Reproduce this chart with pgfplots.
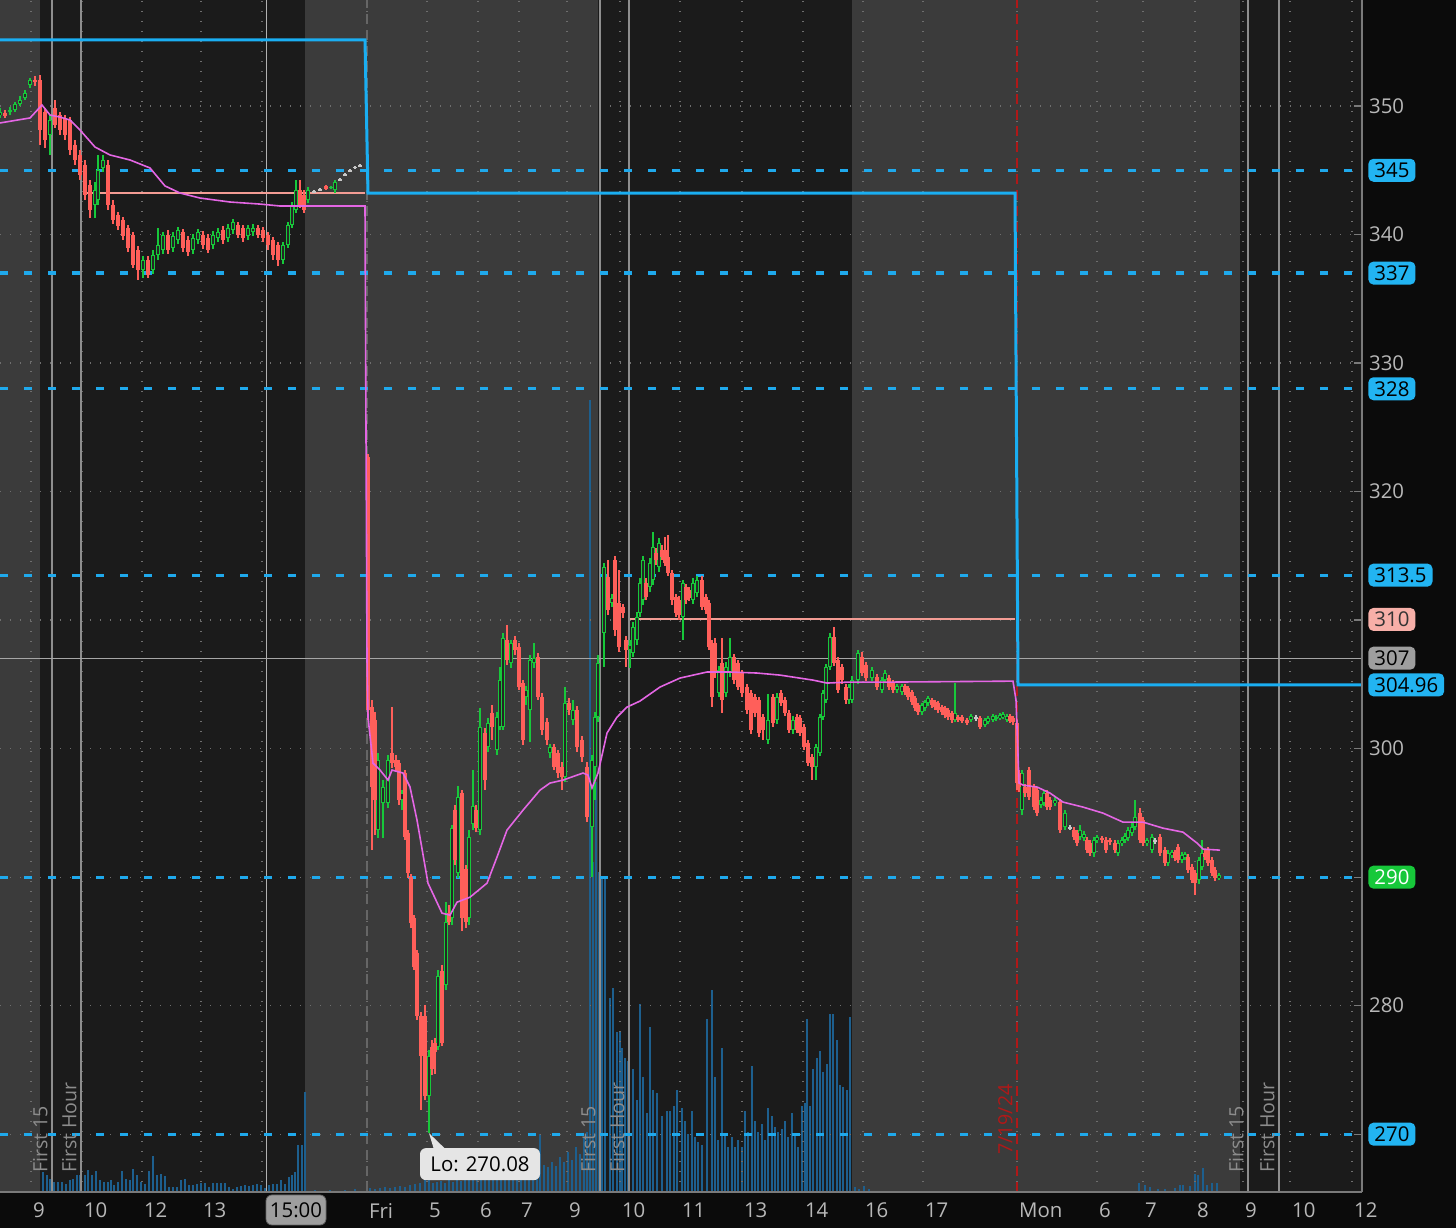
\documentclass[border=0pt]{standalone}
\usepackage{pgfplots}
\pgfplotsset{compat=1.18}
\usepackage{pgfplotstable}
\usepackage{fontspec}
\setmainfont{Open Sans}

\definecolor{bgout}{HTML}{0B0B0B}
\definecolor{bggray}{HTML}{3B3B3B}
\definecolor{bgdark}{HTML}{1B1B1B}
\definecolor{lvlcyan}{HTML}{1FA9EC}
\definecolor{boxcyan}{HTML}{22B4F2}
\definecolor{stepblue}{HTML}{1AAEF2}
\definecolor{vwap}{HTML}{E466E4}
\definecolor{cred}{HTML}{FF5F5A}
\definecolor{cgreen}{HTML}{17C83A}
\definecolor{cgray}{HTML}{C8C8C8}
\definecolor{hollow}{HTML}{262626}
\definecolor{pinklvl}{HTML}{F39C94}
\definecolor{pinkbox}{HTML}{F7AFA8}
\definecolor{volblue}{HTML}{1D5F8E}
\definecolor{sessline}{HTML}{8E8E8E}
\definecolor{gridc}{HTML}{6E6E6E}
\definecolor{ticktext}{HTML}{B8B8B8}
\definecolor{datered}{HTML}{B01818}
\definecolor{axisc}{HTML}{7A7A7A}

\pgfplotsset{
  cbase/.style={forget plot, only marks, mark=*, mark size=0.2pt,
    mark options={draw opacity=0, fill opacity=0}},
  dup/.style={cbase, restrict expr to domain={\thisrow{d}}{0.5:1.5}},
  ddown/.style={cbase, restrict expr to domain={\thisrow{d}}{-0.5:0.5}},
  dgray/.style={cbase, restrict expr to domain={\thisrow{d}}{1.5:2.5}},
}

\pgfplotstableread{
x o c h l d
0 349.30 349.53 349.84 349.07 1
5 349.46 349.22 349.69 349.07 0
10 349.53 349.69 349.92 349.30 1
15 349.69 350.16 350.31 349.53 1
20 350.16 350.47 350.78 350.00 1
25 350.62 351.01 351.25 350.47 1
30 351.63 352.02 352.18 351.40 1
35 352.02 351.87 352.33 351.56 0
40 352.02 348.13 352.41 346.97 0
45 349.53 347.36 349.84 346.73 0
50 347.74 348.91 349.30 346.19 1
55 349.84 348.52 350.47 348.29 0
60 349.30 348.13 349.53 347.74 0
65 349.07 347.74 349.30 347.36 0
70 348.91 346.58 349.14 346.19 0
75 346.97 345.80 347.36 345.41 0
80 346.19 344.63 346.58 344.24 0
85 345.41 343.07 345.80 342.69 0
90 343.85 341.91 344.24 341.29 0
95 342.30 343.46 344.09 341.29 1
98 342.69 345.02 346.19 342.30 1
103 345.18 345.80 346.19 344.86 1
108 345.41 342.30 345.80 341.91 0
113 342.30 341.13 342.69 340.82 0
118 341.52 340.66 341.75 340.35 0
123 341.13 339.89 341.37 339.57 0
128 340.51 338.95 340.74 338.64 0
133 339.96 337.63 340.20 337.40 0
138 338.79 337.24 339.11 336.46 0
143 337.24 338.02 338.33 336.62 1
148 338.02 336.85 338.33 336.62 0
153 337.24 338.41 338.79 336.93 1
158 338.41 339.18 340.51 338.02 1
163 338.79 339.96 340.20 338.48 1
168 339.96 338.79 340.35 338.48 0
173 338.95 339.88 340.20 338.64 1
178 339.57 340.35 340.58 339.26 1
183 340.20 338.95 340.43 338.64 0
188 339.57 338.64 339.88 338.33 0
193 338.79 339.73 340.04 338.48 1
198 339.57 340.20 340.43 339.26 1
203 339.96 339.18 340.27 338.87 0
208 339.73 338.79 340.04 338.56 0
213 339.18 339.96 340.27 338.87 1
218 339.73 340.20 340.51 339.42 1
223 340.35 339.57 340.66 339.26 0
228 339.73 340.51 340.82 339.42 1
233 340.35 340.97 341.21 340.04 1
238 340.74 339.96 340.97 339.73 0
243 340.51 339.73 340.74 339.42 0
248 339.88 340.51 340.74 339.57 1
253 340.20 340.51 340.82 339.88 1
258 340.51 339.96 340.74 339.73 0
263 340.35 339.73 340.58 339.42 0
268 339.96 339.18 340.20 338.79 0
273 339.57 338.41 339.81 338.02 0
278 339.18 338.02 339.42 337.55 0
283 338.02 339.18 339.42 337.71 1
288 339.18 340.74 340.97 338.95 1
292 340.74 342.30 342.53 340.51 1
296 341.91 343.46 344.24 341.67 1
300 343.46 342.30 344.24 342.06 0
304 343.07 341.91 343.46 341.67 0
308 342.69 343.46 343.70 342.45 1
314 343.30 343.38 343.46 343.23 2
320 343.46 343.54 343.62 343.38 2
326 343.77 343.54 343.85 343.46 0
331 343.62 343.70 343.77 343.54 1
335 343.46 344.09 344.24 343.23 1
340 344.24 344.32 344.40 344.17 2
345 344.63 344.71 344.79 344.55 2
350 344.94 345.02 345.10 344.86 2
355 345.18 345.26 345.33 345.10 2
360 345.33 345.41 345.49 345.26 2
368 322.69 302.99 322.90 302.22 0
372 303.23 297.01 303.78 292.10 0
375 302.22 295.99 302.84 293.27 0
378 293.66 299.11 299.65 293.03 1
383 295.76 297.01 297.55 293.03 1
388 295.76 299.11 299.50 295.37 1
392 299.65 298.87 303.23 298.48 0
396 299.11 298.56 299.50 298.17 0
399 298.87 295.99 299.11 295.60 0
402 295.99 296.54 296.77 295.22 1
405 298.09 293.11 298.33 292.88 0
408 293.42 290.31 293.66 289.92 0
411 289.99 286.42 290.23 286.03 0
414 286.81 283.00 287.04 282.77 0
417 284.09 279.18 284.32 278.88 0
421 279.18 276.07 279.50 271.87 0
425 279.18 272.96 280.04 272.65 0
429 272.96 276.07 276.54 270.08 1
432 276.77 275.06 277.32 274.60 0
435 277.08 276.38 277.47 274.67 0
438 276.77 282.30 282.77 276.54 1
442 282.69 277.08 283.15 276.85 0
446 281.60 286.50 288.05 281.21 1
449 287.20 286.50 287.82 286.27 0
452 286.81 293.82 294.05 286.27 1
455 295.22 291.33 295.60 290.94 0
458 290.31 296.23 297.08 289.92 1
462 296.54 286.81 296.77 285.80 0
466 290.63 286.50 290.94 286.03 0
469 286.81 293.11 293.66 286.27 1
473 294.13 295.53 298.33 293.66 1
476 295.22 293.82 295.60 293.50 0
480 293.66 301.68 303.16 293.27 1
485 301.21 297.55 301.60 296.77 0
488 300.12 301.99 302.37 299.73 1
492 302.77 301.68 303.39 300.66 0
497 299.88 302.45 302.84 299.50 1
500 301.68 305.33 306.34 301.44 1
503 301.68 308.60 308.99 301.44 1
507 308.44 306.89 309.61 306.50 0
511 306.66 308.21 308.44 306.27 1
515 308.44 307.67 308.76 307.28 0
519 307.90 304.79 308.21 304.55 0
523 305.10 300.66 305.33 300.27 0
526 304.01 304.55 304.86 303.39 1
530 303.00 306.89 307.28 300.51 1
534 306.66 307.05 308.21 306.27 1
538 307.12 304.01 307.43 303.78 0
542 304.01 301.44 304.32 301.05 0
547 302.06 300.66 302.37 300.27 0
550 299.65 300.12 300.35 299.26 1
554 300.12 298.56 300.35 298.33 0
558 299.65 298.09 299.88 297.71 0
562 298.56 297.79 298.95 296.77 0
565 297.79 303.54 304.79 297.40 1
569 303.54 303.00 303.93 302.61 0
573 302.22 303.00 303.78 301.83 1
577 303.00 300.12 303.31 299.73 0
582 300.66 299.34 300.97 298.95 0
587 298.56 294.67 298.95 294.28 0
592 293.89 299.11 299.50 290.00 1
595 298.56 302.45 302.84 295.99 1
598 302.45 306.66 307.28 302.06 1
604 308.99 314.13 314.44 306.34 1
608 313.35 310.78 314.67 310.39 0
612 311.33 311.72 312.02 311.01 1
615 314.67 309.22 314.98 308.76 0
619 311.33 307.90 313.89 307.51 0
623 311.01 310.55 311.25 310.16 0
626 308.44 307.67 308.76 306.34 0
630 307.67 308.06 308.44 306.27 1
633 307.43 309.45 309.84 307.12 1
637 308.44 310.23 310.62 308.06 1
640 310.55 312.88 313.27 310.23 1
643 311.56 314.67 314.98 311.17 1
646 312.88 311.79 313.27 311.56 0
650 312.57 314.44 314.83 312.18 1
653 313.11 315.68 316.85 312.73 1
656 315.22 314.67 315.60 314.28 0
659 314.13 316.00 316.39 313.74 1
662 315.45 314.90 315.84 314.67 0
665 315.45 314.44 316.46 314.21 0
668 314.90 313.66 316.62 313.43 0
672 313.66 311.56 313.89 311.17 0
676 311.79 310.55 312.02 310.23 0
679 311.56 310.39 311.87 310.00 0
683 310.23 312.88 313.11 308.44 1
686 312.57 311.56 312.80 311.25 0
689 312.34 311.71 312.57 311.48 0
693 311.56 312.88 313.27 311.25 1
697 312.10 313.11 313.43 311.79 1
702 313.11 311.01 313.43 310.78 0
706 311.79 310.78 312.02 310.47 0
709 311.33 307.90 311.56 307.67 0
712 308.21 304.01 308.44 303.23 0
715 308.21 305.88 308.60 305.49 0
719 304.32 306.11 306.42 304.01 1
722 306.66 303.78 308.60 302.77 0
726 304.32 306.34 306.73 304.01 1
730 305.88 307.12 308.60 305.57 1
734 307.12 305.33 307.36 305.02 0
738 306.66 304.79 306.89 304.55 0
742 305.88 304.32 306.11 304.01 0
747 304.79 303.00 305.02 302.69 0
751 304.32 301.44 304.55 301.13 0
755 304.01 302.77 304.24 302.45 0
759 303.78 301.21 304.01 300.90 0
763 302.45 301.44 302.69 300.66 0
768 300.66 302.22 304.24 300.35 1
773 304.01 301.99 304.24 301.68 0
777 302.22 304.01 304.32 301.91 1
781 304.32 303.54 304.55 303.31 0
785 303.78 302.77 304.01 302.53 0
789 302.77 301.44 303.00 301.21 0
793 301.44 302.22 302.53 301.13 1
797 302.45 301.44 302.69 301.21 0
800 302.37 301.21 302.61 300.97 0
804 301.68 300.12 301.91 299.88 0
808 300.43 298.87 300.66 298.64 0
812 299.34 298.56 299.57 297.55 0
816 298.56 300.12 300.35 297.55 1
820 299.65 302.45 302.69 299.42 1
823 302.45 304.32 304.55 302.22 1
826 303.78 306.34 306.58 303.54 1
830 306.34 308.68 308.99 306.11 1
834 308.68 306.66 309.45 306.42 0
838 306.89 304.55 307.12 304.32 0
842 306.34 305.33 306.58 305.02 0
846 304.79 303.78 305.02 303.47 0
849 303.78 304.79 305.02 303.47 1
852 303.78 305.33 305.65 303.54 1
858 305.33 307.43 307.67 305.02 1
862 307.12 305.88 307.51 305.65 0
866 306.50 305.49 306.73 305.26 0
872 305.49 306.11 306.34 305.26 1
877 305.57 304.79 305.80 304.55 0
882 304.55 305.33 305.57 304.32 1
885 305.33 305.88 306.11 305.10 1
889 305.49 304.79 305.72 304.55 0
893 305.10 304.55 305.33 304.32 0
897 304.55 304.86 305.02 304.32 1
902 304.40 304.86 305.02 304.16 1
905 304.86 304.40 305.02 304.16 0
908 304.71 304.01 304.86 303.78 0
912 304.40 303.62 304.55 303.39 0
915 303.93 303.16 304.09 302.92 0
918 303.39 302.84 303.54 302.61 0
922 302.84 303.39 303.54 302.61 1
925 303.16 303.62 303.78 302.92 1
928 303.54 303.93 304.09 303.31 1
932 303.78 303.39 303.93 303.16 0
935 303.62 303.23 303.78 303.00 0
938 303.54 303.00 303.70 302.77 0
942 303.23 302.84 303.39 302.61 0
945 303.16 302.61 303.31 302.37 0
948 303.00 302.45 303.16 302.22 0
952 302.77 302.22 302.92 301.99 0
955 302.22 302.77 305.10 302.06 1
958 302.45 302.22 302.61 302.06 0
962 302.45 302.14 302.61 301.99 0
967 302.22 301.99 302.37 301.83 0
971 302.22 302.53 302.69 302.06 1
976 302.45 302.30 302.61 302.14 2
980 302.37 301.68 302.53 301.52 0
985 301.83 302.22 302.37 301.68 1
988 302.06 302.37 302.53 301.91 1
993 302.22 302.53 302.69 302.06 1
996 302.30 302.45 302.61 302.14 1
1000 302.37 302.61 302.77 302.22 1
1003 302.45 302.69 302.84 302.30 1
1007 302.22 302.53 302.69 302.06 1
1010 302.53 302.14 302.69 301.99 0
1013 302.37 302.06 302.53 301.83 0
1017 301.99 297.32 302.22 296.77 0
1019 298.09 297.01 298.33 296.62 0
1022 295.22 298.09 298.33 294.83 1
1025 297.01 296.54 297.24 296.23 0
1029 298.33 296.23 298.56 295.99 0
1034 297.01 295.45 297.24 295.22 0
1037 296.77 294.98 297.01 294.75 0
1041 295.60 295.99 296.23 295.37 1
1044 295.76 296.54 296.77 295.53 1
1047 296.54 295.45 296.77 295.22 0
1050 295.99 295.45 296.23 295.22 0
1055 295.76 295.99 296.23 295.53 1
1060 295.84 293.66 296.07 293.42 0
1065 293.89 294.98 295.22 293.66 1
1070 293.89 293.82 294.05 293.66 2
1074 293.66 293.11 293.89 292.88 0
1077 293.42 292.65 293.66 292.41 0
1080 293.11 293.66 294.05 292.88 1
1084 293.03 293.35 293.58 292.80 1
1087 292.88 292.10 293.11 291.87 0
1090 292.65 291.87 292.88 291.63 0
1094 291.87 292.88 293.11 291.56 1
1097 292.88 293.11 293.27 292.65 1
1102 293.03 292.88 293.19 292.65 0
1106 292.88 292.10 293.11 291.87 0
1110 292.88 292.72 293.03 292.49 0
1115 292.65 292.10 292.88 291.87 0
1118 291.87 292.65 292.88 291.63 1
1122 292.65 292.88 293.11 292.41 1
1125 292.88 293.19 293.42 292.65 1
1128 293.03 293.66 293.89 292.80 1
1132 293.42 293.89 294.20 293.19 1
1135 293.89 294.67 295.99 293.66 1
1140 294.98 292.88 295.37 292.65 0
1143 294.44 292.65 294.67 292.41 0
1147 292.65 292.88 293.03 292.41 1
1152 292.10 293.11 293.35 291.87 1
1155 292.88 292.72 293.03 292.57 2
1160 293.11 291.87 293.35 291.63 0
1165 292.10 291.09 292.33 290.86 0
1168 291.09 291.87 292.10 290.86 1
1172 291.71 291.95 292.10 291.48 1
1175 291.95 291.48 292.10 291.25 0
1178 292.33 291.33 292.57 291.09 0
1182 291.33 291.71 291.95 291.09 1
1185 291.56 291.79 291.95 291.33 1
1188 291.56 290.55 291.79 290.31 0
1192 290.78 289.77 291.02 289.53 0
1195 290.31 289.53 290.55 288.60 0
1199 289.77 291.33 291.56 289.46 1
1202 290.78 291.87 292.88 290.55 1
1205 291.87 291.56 292.10 291.33 0
1208 292.10 291.09 292.33 290.86 0
1212 291.33 290.31 291.56 290.08 0
1215 290.55 289.92 290.78 289.69 0
1219 289.92 290.16 290.31 289.77 1
}\candles

\pgfplotstableread{
x v
0 348.68
30 349.07
42 350.08
50 349.30
60 349.14
70 348.91
80 348.13
95 346.81
110 346.19
130 345.80
150 345.18
165 343.78
180 343.23
200 342.84
230 342.53
260 342.37
280 342.22
365 342.22
367 306.89
368 302.45
373 298.87
380 298.33
388 297.55
392 298.33
403 298.10
410 297.01
417 294.44
428 289.53
442 287.20
450 287.04
457 288.05
470 288.44
487 289.53
497 291.56
507 293.66
523 295.21
540 296.77
550 297.32
563 297.55
583 298.10
588 297.94
592 296.93
598 298.10
607 301.21
617 302.45
627 303.23
640 303.70
660 304.79
680 305.49
707 305.96
730 305.96
757 305.88
780 305.72
813 305.33
827 305.10
847 305.17
880 305.17
1013 305.25
1016 303.78
1019 297.32
1023 297.16
1037 297.01
1050 296.54
1063 295.84
1083 295.45
1103 294.98
1123 294.28
1143 294.28
1163 293.81
1183 293.50
1197 292.65
1203 292.18
1220 292.10
}\vwaptab

\pgfplotstableread{
x v
43 20
47 17
50 13
54 10
58 10
62 10
66 8
70 12
73 13
77 17
80 17
85 17
88 22
92 17
96 21
100 12
104 10
108 10
111 12
114 7
118 10
122 21
126 13
130 12
133 23
137 17
141 10
145 8
149 21
153 36
157 17
161 18
165 16
169 5
173 5
177 5
181 12
185 13
189 7
193 7
197 8
201 9
205 9
209 5
213 9
217 9
221 9
225 9
229 5
233 3
237 5
241 6
245 7
249 6
253 7
257 8
261 7
265 4
269 7
273 8
277 8
281 12
285 8
289 15
292 17
295 20
298 47
302 47
305 100
315 2
330 2
345 2
355 3
370 4
375 3
380 4
385 5
390 4
395 5
400 6
405 5
410 7
415 8
420 9
425 12
429 20
433 9
437 10
441 11
445 9
449 12
453 10
457 14
461 11
465 13
469 15
473 12
477 14
481 16
485 13
489 18
493 15
497 14
501 20
505 17
509 22
513 16
517 19
521 24
525 18
529 20
533 25
537 22
540 58
544 27
548 25
552 30
556 26
560 35
564 30
568 40
572 32
576 45
580 38
584 55
587 60
590 792
593 330
596 410
599 320
602 315
605 316
610 194
613 204
617 160
620 160
622 144
625 134
628 131
633 123
637 92
640 188
643 115
647 79
650 165
653 102
657 99
662 76
667 81
670 81
674 86
677 102
682 84
685 71
688 58
692 81
695 55
698 50
702 47
707 173
712 202
715 115
718 52
722 144
725 58
728 45
732 55
735 45
738 52
742 45
745 81
748 60
752 126
755 71
758 60
762 68
765 52
768 84
772 76
775 65
778 60
782 63
785 71
788 55
792 79
795 58
798 45
802 86
805 89
807 173
810 86
813 123
817 134
820 141
823 120
827 128
830 178
833 178
837 152
840 107
843 105
847 102
850 175
855 5
859 3
864 6
869 3
1139 9
1145 7
1150 5
1158 3
1165 3
1175 4
1180 7
1183 7
1190 6
1195 18
1198 17
1203 24
1207 7
1212 9
1217 9
}\volume

\newcommand{\lblfont}{\fontsize{10.2}{12}\selectfont}

\begin{document}
\begin{tikzpicture}
\useasboundingbox (0,-18pt) rectangle (728pt,596pt);
\fill[bgout] (0,-18pt) rectangle (728pt,596pt);

% volume axis with session backgrounds
\begin{axis}[at={(0,0)}, anchor=south west, scale only axis,
  width=681pt, height=596pt, xmin=0, xmax=1362, ymin=0, ymax=1192,
  hide axis, clip=true]
  \fill[bggray] (axis cs:0,0) rectangle (axis cs:40,1192);
  \fill[bgdark] (axis cs:40,0) rectangle (axis cs:305,1192);
  \fill[bggray] (axis cs:305,0) rectangle (axis cs:598,1192);
  \fill[bgdark] (axis cs:598,0) rectangle (axis cs:852,1192);
  \fill[bggray] (axis cs:852,0) rectangle (axis cs:1240,1192);
  \fill[bgdark] (axis cs:1240,0) rectangle (axis cs:1362,1192);
  \addplot[ycomb, volblue, line width=0.8pt, mark=none] table[x=x, y=v] {\volume};
\end{axis}

% price axis
\begin{axis}[at={(0,0)}, anchor=south west, scale only axis,
  width=681pt, height=596pt, xmin=0, xmax=1362, ymin=265.5, ymax=358.25,
  clip=false, axis line style={draw=none},
  xtick={31,82,142,201,262,367,427,478,519,567,620,680,742,803,863,923,1017,1097,1143,1195,1243,1290,1352},
  xticklabels={9,10,12,13,14,Fri,5,6,7,9,10,11,13,14,16,17,Mon,6,7,8,9,10,12},
  ytick={270,280,290,300,310,320,330,340,350},
  yticklabels={,280,,300,,320,330,340,350},
  grid=major, grid style={gridc, line width=0.6pt, dash pattern=on 0.6pt off 4.4pt},
  ytick pos=right, yticklabel pos=right, tick align=inside, major tick length=4pt,
  xtick style={draw=none}, ytick style={axisc, line width=0.6pt},
  ticklabel style={font=\lblfont, text=ticktext},
  xticklabel style={anchor=north west, xshift=-2.5pt, yshift=-2pt},
  yticklabel style={anchor=west, xshift=0pt},
]
  % session / crosshair lines
  \addplot[sessline, line width=1pt] coordinates {(52,265.5) (52,358.25)};
  \addplot[sessline, line width=1pt] coordinates {(81,265.5) (81,358.25)};
  \addplot[sessline, line width=1pt] coordinates {(600,265.5) (600,358.25)};
  \addplot[sessline, line width=1pt] coordinates {(629,265.5) (629,358.25)};
  \addplot[sessline, line width=1pt] coordinates {(1248,265.5) (1248,358.25)};
  \addplot[sessline, line width=1pt] coordinates {(1279,265.5) (1279,358.25)};
  \addplot[gray!80!black, line width=0.8pt, dash pattern=on 5pt off 3pt] coordinates {(367,265.5) (367,358.25)};
  \addplot[datered, line width=0.8pt, dash pattern=on 5pt off 3pt] coordinates {(1017,265.5) (1017,358.25)};
  \addplot[white!70!black, line width=0.5pt] coordinates {(266,265.5) (266,358.25)};
  \addplot[white!65!black, line width=0.5pt] coordinates {(0,307.04) (1362,307.04)};

  % dashed price levels
  \foreach \lv in {345,337,328,313.5,290,270} {
    \edef\tmp{\noexpand\addplot[lvlcyan, line width=1.6pt, dash pattern=on 4pt off 8pt] coordinates {(0,\lv) (1362,\lv)};}
    \tmp
  }
  % pink levels
  \addplot[pinklvl, line width=1pt] coordinates {(83,343.23) (365,343.23)};
  \addplot[pinklvl, line width=1pt] coordinates {(630,310.05) (1015,310.05)};

  % candles: wicks
  \addplot[dup, error bars/.cd, y dir=both, y explicit, error mark=none, error bar style={line width=0.7pt, draw=cgreen, draw opacity=1}]
    table[x=x, y expr={(\thisrow{h}+\thisrow{l})/2}, y error expr={(\thisrow{h}-\thisrow{l})/2}] {\candles};
  \addplot[ddown, error bars/.cd, y dir=both, y explicit, error mark=none, error bar style={line width=0.7pt, draw=cred, draw opacity=1}]
    table[x=x, y expr={(\thisrow{h}+\thisrow{l})/2}, y error expr={(\thisrow{h}-\thisrow{l})/2}] {\candles};
  \addplot[dgray, error bars/.cd, y dir=both, y explicit, error mark=none, error bar style={line width=0.7pt, draw=cgray, draw opacity=1}]
    table[x=x, y expr={(\thisrow{h}+\thisrow{l})/2}, y error expr={(\thisrow{h}-\thisrow{l})/2}] {\candles};
  % candles: bodies
  \addplot[dup, error bars/.cd, y dir=both, y explicit, error mark=none, error bar style={line width=2.4pt, draw=cgreen, draw opacity=1}]
    table[x=x, y expr={(\thisrow{o}+\thisrow{c})/2}, y error expr={max(abs(\thisrow{o}-\thisrow{c})/2,0.06)}] {\candles};
  \addplot[dup, error bars/.cd, y dir=both, y explicit, error mark=none, error bar style={line width=1.0pt, draw=hollow, draw opacity=1}]
    table[x=x, y expr={(\thisrow{o}+\thisrow{c})/2}, y error expr={max(abs(\thisrow{o}-\thisrow{c})/2-0.1,0)}] {\candles};
  \addplot[ddown, error bars/.cd, y dir=both, y explicit, error mark=none, error bar style={line width=2.4pt, draw=cred, draw opacity=1}]
    table[x=x, y expr={(\thisrow{o}+\thisrow{c})/2}, y error expr={max(abs(\thisrow{o}-\thisrow{c})/2,0.06)}] {\candles};
  \addplot[dgray, error bars/.cd, y dir=both, y explicit, error mark=none, error bar style={line width=2.4pt, draw=cgray, draw opacity=1}]
    table[x=x, y expr={(\thisrow{o}+\thisrow{c})/2}, y error expr={max(abs(\thisrow{o}-\thisrow{c})/2,0.06)}] {\candles};

  % VWAP
  \addplot[vwap, line width=0.8pt] table[x=x, y=v] {\vwaptab};
  % step line
  \addplot[stepblue, line width=1.5pt] coordinates {(0,355.14) (365,355.14) (368,343.23) (1015,343.23) (1018,304.96) (1362,304.96)};

  % frame
  \draw[axisc, line width=0.8pt] (axis cs:0,265.5) -- (axis cs:1362,265.5);
  \draw[axisc, line width=0.8pt] (axis cs:1362,265.5) -- (axis cs:1362,358.25);

  % right price boxes
  \tikzset{pbox/.style={anchor=west, xshift=3pt, rounded corners=2.5pt, inner xsep=3pt, inner ysep=1.8pt, font=\lblfont, text depth=0pt, minimum height=11.5pt}}
  \node[pbox, fill=boxcyan, text=black] at (axis cs:1362,345) {345};
  \node[pbox, fill=boxcyan, text=black] at (axis cs:1362,337) {337};
  \node[pbox, fill=boxcyan, text=black] at (axis cs:1362,328) {328};
  \node[pbox, fill=boxcyan, text=black] at (axis cs:1362,313.5) {313.5};
  \node[pbox, fill=pinkbox, text=black!80] at (axis cs:1362,310.05) {310};
  \node[pbox, fill=white!62!black, text=black] at (axis cs:1362,307.04) {307};
  \node[pbox, fill=boxcyan, text=black] at (axis cs:1362,304.96) {304.96};
  \node[pbox, fill=cgreen, text=white] at (axis cs:1362,290) {290};
  \node[pbox, fill=boxcyan, text=black] at (axis cs:1362,270) {270};

  % session labels
  \tikzset{slbl/.style={rotate=90, anchor=south west, inner sep=1pt, font=\fontsize{9.8}{11}\selectfont, text=white!55!black}}
  \node[slbl] at (axis cs:50,266.8) {First 15};
  \node[slbl] at (axis cs:79,266.8) {First Hour};
  \node[slbl] at (axis cs:598,266.8) {First 15};
  \node[slbl] at (axis cs:627,266.8) {First Hour};
  \node[slbl] at (axis cs:1246,266.8) {First 15};
  \node[slbl] at (axis cs:1277,266.8) {First Hour};
  \node[rotate=90, anchor=south west, inner sep=1pt, font=\fontsize{9.8}{11}\selectfont, text=datered] at (axis cs:1015,268.2) {7/19/24};

  % Lo callout
  \fill[white!90!black] (axis cs:429,270.08) -- (axis cs:434,268.8) -- (axis cs:446,268.8) -- cycle;
  \node[fill=white!90!black, rounded corners=3pt, minimum width=60pt, minimum height=16pt, inner sep=1pt, font=\lblfont, text=black] at (axis cs:480,267.67) {Lo: 270.08};

  % crosshair time box
  \node[fill=white!62!black, draw=white!40!black, rounded corners=3pt, minimum width=30pt, minimum height=15pt, inner sep=1pt, font=\lblfont, text=black, anchor=north] at (axis cs:296,265.3) {15:00};
\end{axis}
\end{tikzpicture}
\end{document}
